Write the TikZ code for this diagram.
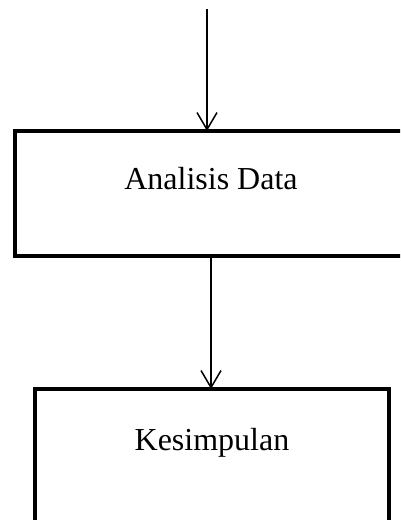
\documentclass[tikz,border=0pt]{standalone}
\usepackage{fontspec}
\setmainfont{Liberation Serif}
\usetikzlibrary{positioning, arrows.meta}

\begin{document}
\begin{tikzpicture}[
    kotak/.style={draw, line width=4pt, outer sep=0pt, inner sep=0pt},
    panah/.style={-{Straight Barb[length=17pt,width=20pt]}, line width=1.5pt},
    tulisan/.style={font=\fontsize{32}{38}\selectfont}
  ]
  \useasboundingbox (0,0) rectangle (400pt,-520pt);
  \clip (0,0) rectangle (400pt,-520pt);
  \node [kotak, minimum width=392pt, minimum height=125pt,
         label={[tulisan, yshift=15pt]center:Analisis Data}] (analisis) at (211pt,-193.5pt) {};
  \node [kotak, minimum width=354pt, minimum height=135pt, below=133pt of analisis, xshift=1pt,
         label={[tulisan, yshift=14pt]center:Kesimpulan}] (kesimpulan) {};
  \coordinate (mulai) at (207pt,-9pt);
  \draw [panah] (mulai) -- (mulai |- analisis.north);
  \draw [panah] (analisis.south) -- (analisis.south |- kesimpulan.north);
\end{tikzpicture}
\end{document}
